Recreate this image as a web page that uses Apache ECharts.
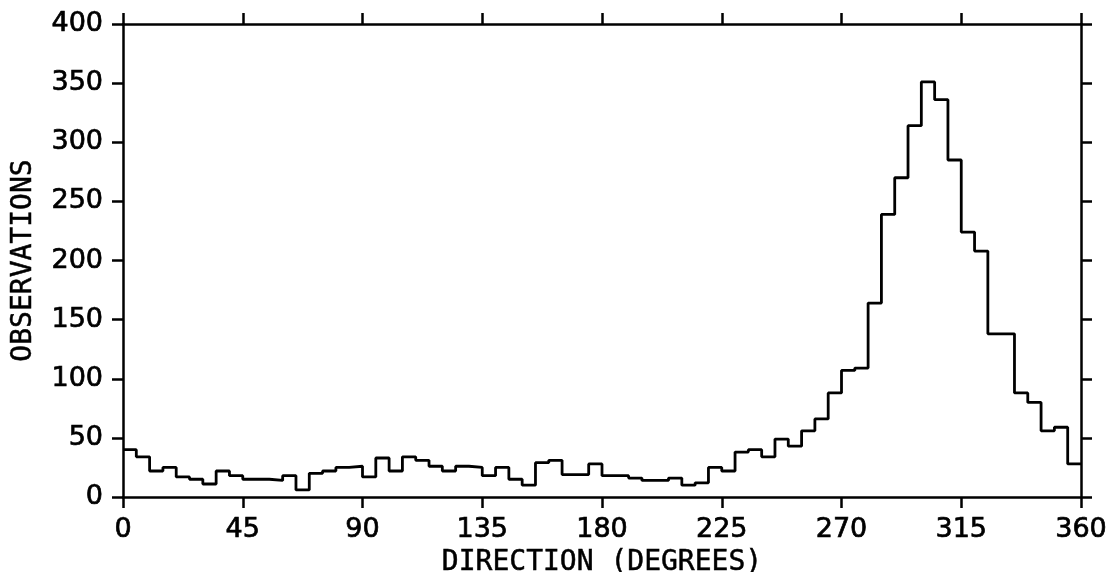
<!DOCTYPE html>
<html><head><meta charset="utf-8">
<script src="https://cdn.jsdelivr.net/npm/echarts@6/dist/echarts.min.js"></script>
<style>html,body{margin:0;padding:0;background:#fff}#c{width:1106px;height:572px}</style>
</head><body><div id="c"></div>
<script>
// Bin start directions (degrees), 5-degree bins
const binStarts = [0,5,10,15,20,25,30,35,40,45,50,55,60,65,70,75,80,85,90,95,100,105,110,115,
  120,125,130,135,140,145,150,155,160,165,170,175,180,185,190,195,200,205,210,215,220,225,230,235,
  240,245,250,255,260,265,270,275,280,285,290,295,300,305,310,315,320,325,330,335,340,345,350,355];
const binEnd = 360;
// Observation counts per bin
const observations = [40,34,22,25,17,15,11,22,18,15,15,14,18,6,20,22,25,26,17,33,22,34,31,26,
  22,26,25,18,25,15,10,29,31,19,19,28,18,18,16,14,14,16,10,12,25,22,38,40,34,49,43,56,66,88,
  107,109,164,239,270,314,351,336,285,224,208,138,138,88,80,56,59,28];
const xTicks = [0,45,90,135,180,225,270,315,360];
const yTicks = [0,50,100,150,200,250,300,350,400];

const stepData = binStarts.map((x,i)=>[x, observations[i]]);
stepData.push([binEnd, observations[observations.length-1]]);

const chart = echarts.init(document.getElementById('c'), null, {renderer:'canvas'});
const tickFont = {fontFamily:'DejaVu Sans', fontSize:27, color:'#000', textBorderColor:'#000', textBorderWidth:0.7};
const titleFont = {fontFamily:'DejaVu Sans Mono', fontSize:28, color:'#000', textBorderColor:'#000', textBorderWidth:0.5};
const axisLine = {show:true, onZero:false, lineStyle:{color:'#000', width:2.5}};
const tick = {show:true, inside:false, length:11, lineStyle:{color:'#000', width:2.5}};
chart.setOption({
  animation:false,
  backgroundColor:'#fff',
  grid:{left:123, right:25, top:24, bottom:75, containLabel:false, outerBoundsMode:'none'},
  xAxis:[{
    type:'value', min:xTicks[0], max:xTicks[xTicks.length-1], interval:45,
    position:'bottom',
    axisLine:axisLine, axisTick:tick,
    axisLabel:{...tickFont, margin:19},
    splitLine:{show:false},
    name:'DIRECTION (DEGREES)', nameLocation:'middle', nameGap:50,
    nameTextStyle:titleFont
  },{
    type:'value', min:xTicks[0], max:xTicks[xTicks.length-1], interval:45,
    position:'top',
    axisLine:axisLine, axisTick:tick,
    axisLabel:{show:false}, splitLine:{show:false}
  }],
  yAxis:[{
    type:'value', min:yTicks[0], max:yTicks[yTicks.length-1], interval:50,
    position:'left',
    axisLine:axisLine, axisTick:tick,
    axisLabel:{...tickFont, margin:20},
    splitLine:{show:false},
    name:'OBSERVATIONS', nameLocation:'middle', nameGap:85,
    nameTextStyle:titleFont
  },{
    type:'value', min:yTicks[0], max:yTicks[yTicks.length-1], interval:50,
    position:'right',
    axisLine:axisLine, axisTick:tick,
    axisLabel:{show:false}, splitLine:{show:false}
  }],
  series:[{
    type:'line', step:'end', data:stepData, xAxisIndex:0, yAxisIndex:0,
    showSymbol:false, symbol:'none',
    lineStyle:{color:'#000', width:2.8}
  },{
    type:'line', data:[], xAxisIndex:1, yAxisIndex:1, symbol:'none', silent:true
  }]
});
</script></body></html>
